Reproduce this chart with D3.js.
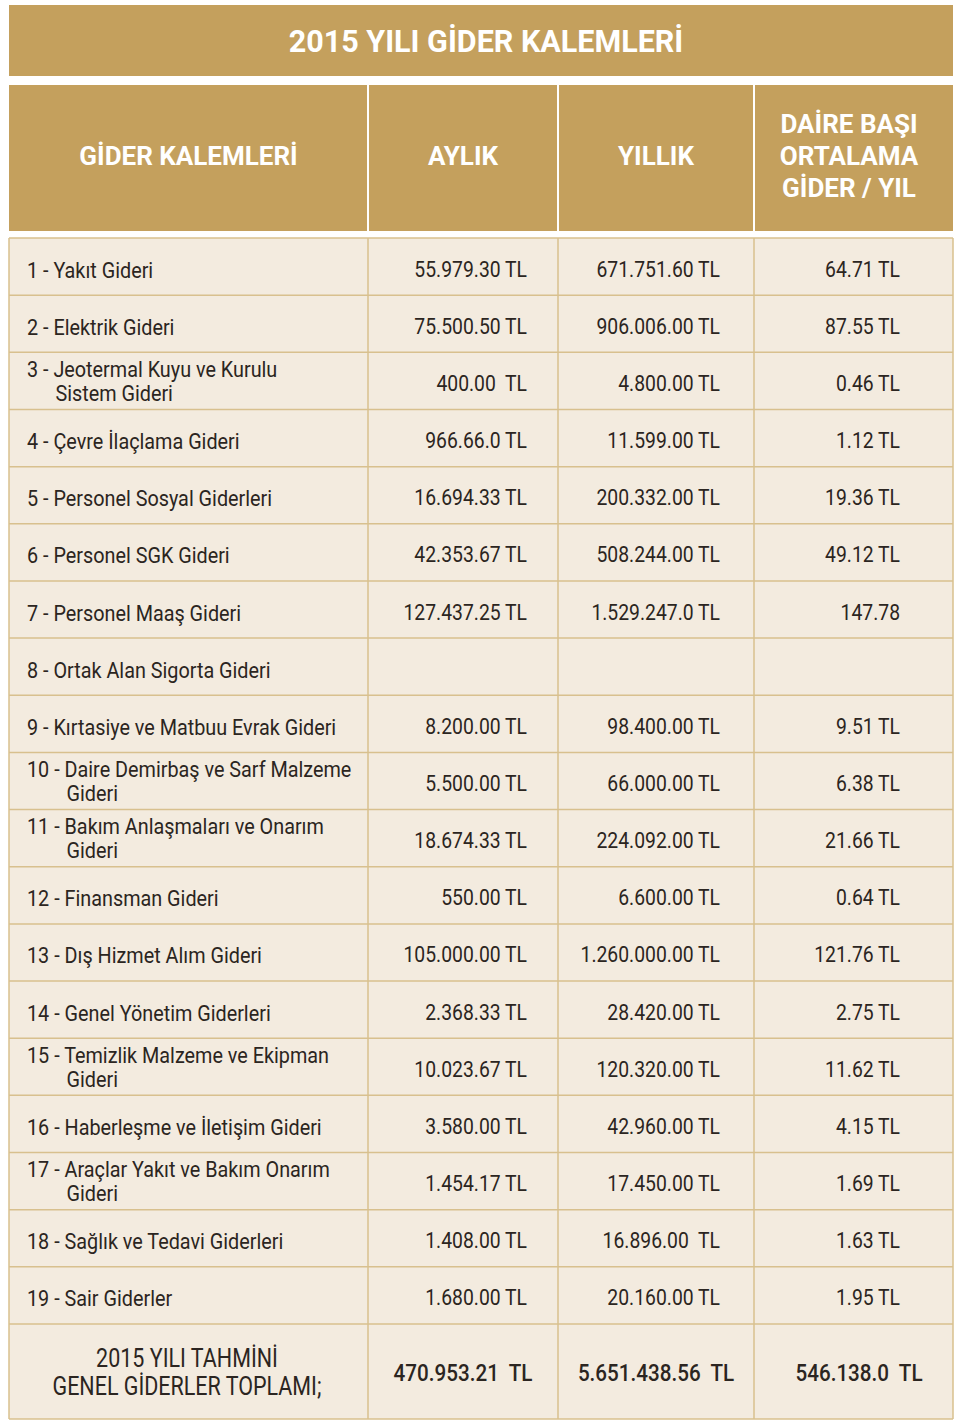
<!DOCTYPE html>
<html>
<head>
<meta charset="utf-8">
<script src="https://cdn.jsdelivr.net/npm/d3@7"></script>
<style>
  body { margin: 0; background: #fff; }
</style>
</head>
<body>
<div id="chart"></div>
<script>
// table content
const title = "2015 YILI GİDER KALEMLERİ";
const headers = [["GİDER KALEMLERİ"], ["AYLIK"], ["YILLIK"], ["DAİRE BAŞI", "ORTALAMA", "GİDER / YIL"]];

const itemNumbers = ["1", "2", "3", "4", "5", "6", "7", "8", "9", "10", "11", "12", "13", "14", "15", "16", "17", "18", "19"];
const itemNames = [
  ["Yakıt Gideri"],
  ["Elektrik Gideri"],
  ["Jeotermal Kuyu ve Kurulu", "Sistem Gideri"],
  ["Çevre İlaçlama Gideri"],
  ["Personel Sosyal Giderleri"],
  ["Personel SGK Gideri"],
  ["Personel Maaş Gideri"],
  ["Ortak Alan Sigorta Gideri"],
  ["Kırtasiye ve Matbuu Evrak Gideri"],
  ["Daire Demirbaş ve Sarf Malzeme", "Gideri"],
  ["Bakım Anlaşmaları ve Onarım", "Gideri"],
  ["Finansman Gideri"],
  ["Dış Hizmet Alım Gideri"],
  ["Genel Yönetim Giderleri"],
  ["Temizlik Malzeme ve Ekipman", "Gideri"],
  ["Haberleşme ve İletişim Gideri"],
  ["Araçlar Yakıt ve Bakım Onarım", "Gideri"],
  ["Sağlık ve Tedavi Giderleri"],
  ["Sair Giderler"]
];
const monthly = ["55.979.30 TL", "75.500.50 TL", "400.00  TL", "966.66.0 TL", "16.694.33 TL", "42.353.67 TL", "127.437.25 TL", "",
  "8.200.00 TL", "5.500.00 TL", "18.674.33 TL", "550.00 TL", "105.000.00 TL", "2.368.33 TL", "10.023.67 TL", "3.580.00 TL",
  "1.454.17 TL", "1.408.00 TL", "1.680.00 TL"];
const yearly = ["671.751.60 TL", "906.006.00 TL", "4.800.00 TL", "11.599.00 TL", "200.332.00 TL", "508.244.00 TL", "1.529.247.0 TL", "",
  "98.400.00 TL", "66.000.00 TL", "224.092.00 TL", "6.600.00 TL", "1.260.000.00 TL", "28.420.00 TL", "120.320.00 TL", "42.960.00 TL",
  "17.450.00 TL", "16.896.00  TL", "20.160.00 TL"];
const perFlat = ["64.71 TL", "87.55 TL", "0.46 TL", "1.12 TL", "19.36 TL", "49.12 TL", "147.78", "",
  "9.51 TL", "6.38 TL", "21.66 TL", "0.64 TL", "121.76 TL", "2.75 TL", "11.62 TL", "4.15 TL",
  "1.69 TL", "1.63 TL", "1.95 TL"];
const totalLabel = ["2015 YILI TAHMİNİ", "GENEL GİDERLER TOPLAMI;"];
const totals = ["470.953.21  TL", "5.651.438.56  TL", "546.138.0  TL"];

const width = 960, height = 1424;
const colEdges = [9, 368, 558, 754, 953];
const valueRight = [527, 720, 900]; // right edge of the number columns

const gold = "#c4a05d";
const cream = "#f3ebdf";
const lineCol = "#d8c08e";
const ink = "#2b2521";
const font = "Roboto, 'DejaVu Sans', sans-serif";
const squeeze = 0.86; // body face is a condensed DIN

const svg = d3.select("#chart").append("svg")
  .attr("width", width)
  .attr("height", height)
  .style("font-family", font);

// rows
const y = d3.scaleBand()
  .domain(itemNumbers)
  .range([238, 1324]);
const totalTop = 1324, totalBottom = 1419;

// title band
svg.append("rect")
  .attr("x", colEdges[0]).attr("y", 5)
  .attr("width", colEdges[4] - colEdges[0]).attr("height", 71)
  .attr("fill", gold);
svg.append("text")
  .attr("x", 486).attr("y", 52)
  .attr("text-anchor", "middle")
  .attr("fill", "#fff")
  .attr("font-size", 30.5)
  .attr("font-weight", 700)
  .text(title);

// header cells
const headG = svg.append("g");
headers.forEach((lines, i) => {
  const x0 = colEdges[i] + (i > 0 ? 1 : 0), x1 = colEdges[i + 1] - (i < 3 ? 1 : 0);
  headG.append("rect")
    .attr("x", x0).attr("y", 85)
    .attr("width", x1 - x0).attr("height", 146)
    .attr("fill", gold);
  const cx = i === 3 ? 849 : (colEdges[i] + colEdges[i + 1]) / 2;
  const mid = 156;
  lines.forEach((t, j) => {
    headG.append("text")
      .attr("x", cx)
      .attr("y", mid + 9 + (j - (lines.length - 1) / 2) * 32)
      .attr("text-anchor", "middle")
      .attr("fill", "#fff")
      .attr("font-size", 26)
      .attr("font-weight", 700)
      .text(t);
  });
});

// body background
svg.append("rect")
  .attr("x", colEdges[0]).attr("y", 238)
  .attr("width", colEdges[4] - colEdges[0]).attr("height", totalBottom - 238)
  .attr("fill", cream);

// grid lines
const grid = svg.append("g").attr("stroke", lineCol).attr("stroke-width", 1.5);
const hLines = itemNumbers.map(d => y(d)).concat([totalTop, totalBottom]);
grid.selectAll("line.h")
  .data(hLines)
  .join("line")
  .attr("class", "h")
  .attr("x1", colEdges[0]).attr("x2", colEdges[4])
  .attr("y1", d => d).attr("y2", d => d);
grid.selectAll("line.v")
  .data(colEdges)
  .join("line")
  .attr("class", "v")
  .attr("x1", d => d).attr("x2", d => d)
  .attr("y1", 238).attr("y2", totalBottom);

// squeezed text helper
function sq(g, x, yy, str, anchor, size, weight, sx) {
  return g.append("text")
    .attr("transform", `translate(${x},${yy}) scale(${sx || squeeze},1)`)
    .attr("text-anchor", anchor)
    .attr("fill", ink)
    .attr("font-size", size || 22.5)
    .attr("font-weight", weight || 400)
    .style("white-space", "pre")
    .text(str);
}

const body = svg.append("g");
itemNumbers.forEach((num, i) => {
  const top = y(num), mid = top + y.bandwidth() / 2;
  const lines = itemNames[i];
  const prefix = num + " - ";
  if (lines.length === 1) {
    sq(body, 27, mid + 11, prefix + lines[0], "start", 22.5, 400, 0.88);
  } else {
    sq(body, 27, mid - 4, prefix + lines[0], "start", 22.5, 400, 0.88);
    // second line sits under the first word
    const probe = sq(body, 0, 0, prefix, "start", 22.5, 400, 0.88);
    const indent = probe.node().getComputedTextLength() * 0.88;
    probe.remove();
    sq(body, 27 + indent + 2, mid + 20, lines[1], "start", 22.5, 400, 0.88);
  }
  [monthly, yearly, perFlat].forEach((arr, c) => {
    if (arr[i]) sq(body, valueRight[c], mid + 10, arr[i], "end");
  });
});

// total row
const tmid = (totalTop + totalBottom) / 2;
totalLabel.forEach((t, j) => {
  sq(body, 187, tmid - 5 + j * 28, t, "middle", 25, 400, 0.86);
});
totals.forEach((t, c) => {
  const cx = c === 2 ? 859 : (colEdges[c + 1] + colEdges[c + 2]) / 2;
  sq(body, cx, tmid + 9, t, "middle", 24, 500);
});
</script>
</body>
</html>
